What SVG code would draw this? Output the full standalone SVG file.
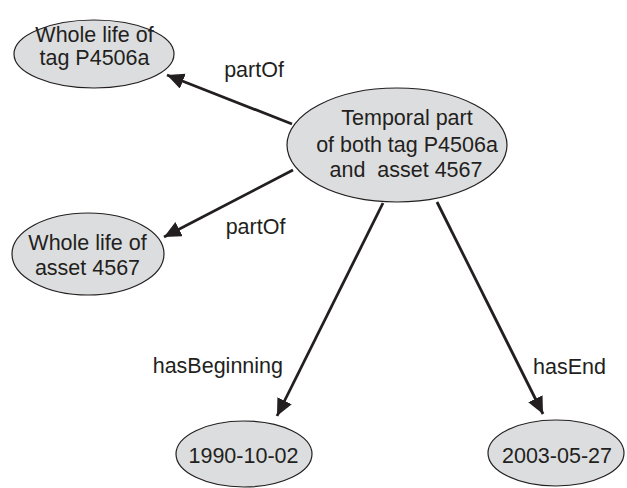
<svg xmlns="http://www.w3.org/2000/svg" width="627" height="488" viewBox="0 0 627 488">
<style>
.node ellipse{fill:#dcdddf;stroke:#231f20;stroke-width:1.2}
text{font-family:"Liberation Sans",Arial,sans-serif;font-size:21.5px;fill:#231f20}
.node text{text-anchor:middle}
.edge line{stroke:#231f20;stroke-width:2.8}
</style>
<defs>
<marker id="ah" markerUnits="userSpaceOnUse" markerWidth="20" markerHeight="20" refX="17" refY="8" orient="auto">
<path d="M0,0 L17,8 L0,16 Z" fill="#231f20"/>
</marker>
</defs>
<g id="connectors" class="edge">
<line x1="292" y1="124" x2="167" y2="75" marker-end="url(#ah)"/>
<line x1="293" y1="170" x2="164" y2="237" marker-end="url(#ah)"/>
<line x1="383" y1="203" x2="277" y2="416" marker-end="url(#ah)"/>
<line x1="437" y1="202" x2="543" y2="414" marker-end="url(#ah)"/>
<text x="254" y="77" text-anchor="middle">partOf</text>
<text x="255.5" y="234" text-anchor="middle">partOf</text>
<text x="283" y="373" text-anchor="end">hasBeginning</text>
<text x="533" y="374">hasEnd</text>
</g>
<g id="n-tag" class="node">
<ellipse cx="94" cy="54" rx="80" ry="34"/>
<text x="94.5" y="42">Whole life of</text>
<text x="94.5" y="65">tag P4506a</text>
</g>
<g id="n-temporal" class="node">
<ellipse cx="397" cy="145" rx="110" ry="57"/>
<text x="407" y="125">Temporal part</text>
<text x="407" y="152">of both tag P4506a</text>
<text x="406" y="177" xml:space="preserve">and  asset 4567</text>
</g>
<g id="n-asset" class="node">
<ellipse cx="88" cy="254" rx="76" ry="41"/>
<text x="87.5" y="250">Whole life of</text>
<text x="87.5" y="275">asset 4567</text>
</g>
<g id="n-begin" class="node">
<ellipse cx="244" cy="454" rx="68" ry="33"/>
<text x="243.5" y="463">1990-10-02</text>
</g>
<g id="n-end" class="node">
<ellipse cx="556" cy="453" rx="68" ry="33"/>
<text x="557" y="463">2003-05-27</text>
</g>
</svg>
